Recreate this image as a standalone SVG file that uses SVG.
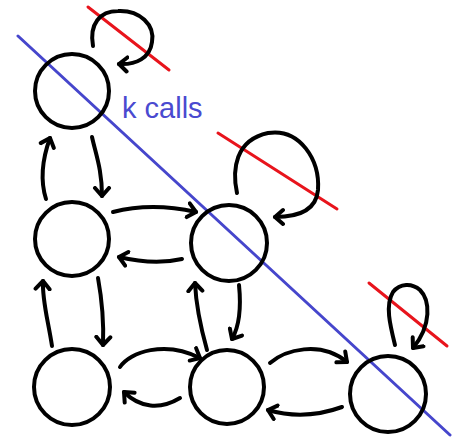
<svg xmlns="http://www.w3.org/2000/svg" width="457" height="437" viewBox="0 0 457 437">
<style>
.node{fill:none;stroke:#000;stroke-width:4}
.edge{fill:none;stroke:#000;stroke-width:4;stroke-linecap:round;stroke-linejoin:round;marker-end:url(#arr)}
.red{stroke:#e8141c;stroke-width:3;stroke-linecap:round}
.blue{stroke:#4646cc;stroke-width:3;stroke-linecap:round}
.lbl{font-family:"Liberation Sans",Arial,sans-serif;font-size:29px;fill:#4a4ad0}
</style>
<defs>
<marker id="arr" markerUnits="userSpaceOnUse" markerWidth="20" markerHeight="20" refX="10" refY="10" orient="auto" viewBox="0 0 20 20">
<path d="M2,3 L10,10 L2,17" fill="none" stroke="#000" stroke-width="4" stroke-linecap="round" stroke-linejoin="round"/>
</marker>
</defs>
<g id="cuts">
<line class="blue" x1="18" y1="36" x2="450" y2="435"/>
<line class="red" x1="88" y1="7" x2="169" y2="70"/>
<line class="red" x1="218" y1="133" x2="337" y2="209"/>
<line class="red" x1="369" y1="283" x2="447" y2="346"/>
</g>
<g id="n1"><circle class="node" cx="72" cy="91" r="37"/></g>
<g id="n2"><circle class="node" cx="72" cy="239" r="37"/></g>
<g id="n3"><circle class="node" cx="72" cy="387" r="38"/></g>
<g id="n4"><circle class="node" cx="229" cy="243" r="38"/></g>
<g id="n5"><circle class="node" cx="227" cy="387" r="37"/></g>
<g id="n6"><circle class="node" cx="388" cy="394" r="38"/></g>
<g id="edges">
<path class="edge" d="M93,46 C89,24 100,11 118,11 C140,10 155,25 152,42 C150,58 136,65 119,64"/>
<path class="edge" d="M237,193 C232,170 235,140 268,133 C300,128 320,160 318,190 C316,212 295,217 275,217"/>
<path class="edge" d="M395,345 C390,325 385,305 393,292 C400,283 412,283 420,290 C430,300 432,325 413,348"/>
<path class="edge" d="M92,137 C96,155 102,170 102,196"/>
<path class="edge" d="M46,199 C40,180 42,160 50,138"/>
<path class="edge" d="M113,212 C140,205 165,205 196,212"/>
<path class="edge" d="M182,259 C160,264 140,262 119,257"/>
<path class="edge" d="M98,278 C102,300 104,320 103,345"/>
<path class="edge" d="M52,346 C48,320 42,300 43,281"/>
<path class="edge" d="M120,367 C130,352 165,340 200,358"/>
<path class="edge" d="M180,398 C160,410 140,408 124,392"/>
<path class="edge" d="M207,350 C200,325 196,305 195,283"/>
<path class="edge" d="M239,285 C241,305 240,325 232,339"/>
<path class="edge" d="M270,363 C285,350 320,340 347,362"/>
<path class="edge" d="M342,407 C320,415 295,418 268,410"/>
</g>
<text class="lbl" x="122" y="118">k calls</text>
</svg>
